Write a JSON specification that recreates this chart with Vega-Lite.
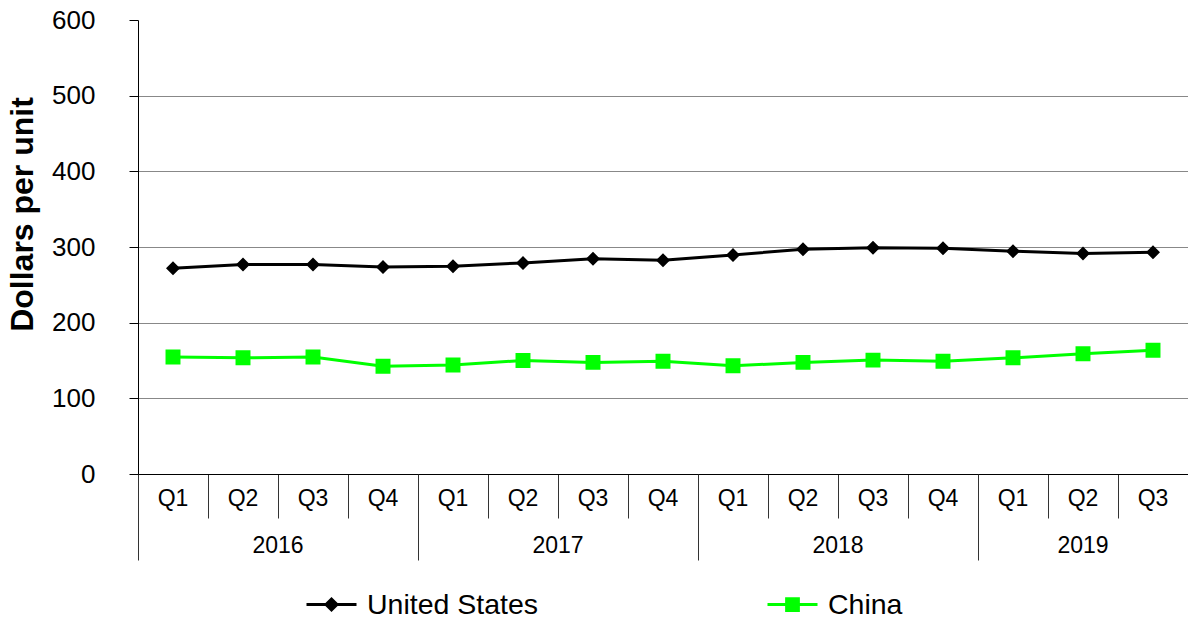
{
  "$schema": "https://vega.github.io/schema/vega-lite/v6.json",
  "width": 1050,
  "height": 454,
  "autosize": {"type": "none"},
  "padding": {"left": 138, "top": 20, "right": 0, "bottom": 146},
  "config": {
    "view": {"stroke": null},
    "font": "Liberation Sans",
    "axis": {"labelFont": "Liberation Sans", "titleFont": "Liberation Sans", "labelColor": "#000000", "titleColor": "#000000"},
    "legend": {"labelFont": "Liberation Sans"}
  },
  "datasets": {
    "prices": [
      {"period": "2016 Q1", "series": "United States", "value": 272},
      {"period": "2016 Q2", "series": "United States", "value": 277},
      {"period": "2016 Q3", "series": "United States", "value": 277},
      {"period": "2016 Q4", "series": "United States", "value": 273.5},
      {"period": "2017 Q1", "series": "United States", "value": 274.5},
      {"period": "2017 Q2", "series": "United States", "value": 279},
      {"period": "2017 Q3", "series": "United States", "value": 284.5},
      {"period": "2017 Q4", "series": "United States", "value": 282.5},
      {"period": "2018 Q1", "series": "United States", "value": 289.5},
      {"period": "2018 Q2", "series": "United States", "value": 297},
      {"period": "2018 Q3", "series": "United States", "value": 299},
      {"period": "2018 Q4", "series": "United States", "value": 298.5},
      {"period": "2019 Q1", "series": "United States", "value": 294.5},
      {"period": "2019 Q2", "series": "United States", "value": 291.5},
      {"period": "2019 Q3", "series": "United States", "value": 293},
      {"period": "2016 Q1", "series": "China", "value": 154.5},
      {"period": "2016 Q2", "series": "China", "value": 153.5},
      {"period": "2016 Q3", "series": "China", "value": 154.5},
      {"period": "2016 Q4", "series": "China", "value": 142.5},
      {"period": "2017 Q1", "series": "China", "value": 144},
      {"period": "2017 Q2", "series": "China", "value": 150},
      {"period": "2017 Q3", "series": "China", "value": 147.5},
      {"period": "2017 Q4", "series": "China", "value": 149},
      {"period": "2018 Q1", "series": "China", "value": 143},
      {"period": "2018 Q2", "series": "China", "value": 147.5},
      {"period": "2018 Q3", "series": "China", "value": 150.5},
      {"period": "2018 Q4", "series": "China", "value": 149},
      {"period": "2019 Q1", "series": "China", "value": 153.5},
      {"period": "2019 Q2", "series": "China", "value": 159},
      {"period": "2019 Q3", "series": "China", "value": 163.5}
    ]
  },
  "data": {"name": "prices"},
  "encoding": {
    "y": {
      "field": "value",
      "type": "quantitative",
      "scale": {"domain": [0, 600], "nice": false, "zero": true},
      "axis": {
        "values": [0, 100, 200, 300, 400, 500, 600],
        "title": "Dollars per unit",
        "titleFontSize": 32,
        "titleFontWeight": "bold",
        "titleAngle": 270,
        "titleX": -106,
        "titleY": 194,
        "titleAlign": "center",
        "titleBaseline": "alphabetic",
        "labelFontSize": 26,
        "labelPadding": 34,
        "tickSize": 9,
        "tickColor": "#000000",
        "domainColor": "#000000",
        "grid": true,
        "gridColor": {"condition": {"test": "datum.value === 0 || datum.value === 600", "value": "transparent"}, "value": "#888888"}
      }
    }
  },
  "layer": [
    {
      "encoding": {
        "x": {
          "field": "period",
          "type": "nominal",
          "scale": {"type": "band", "paddingInner": 0, "paddingOuter": 0,
            "domain": ["2016 Q1","2016 Q2","2016 Q3","2016 Q4","2017 Q1","2017 Q2","2017 Q3","2017 Q4","2018 Q1","2018 Q2","2018 Q3","2018 Q4","2019 Q1","2019 Q2","2019 Q3"]},
          "axis": {
            "orient": "bottom",
            "title": null,
            "labelExpr": "slice(datum.value, 5)",
            "labelAngle": 0,
            "bandPosition": 0,
            "tickSize": 44,
            "tickColor": "#333333",
            "domainColor": "#000000",
            "labelFontSize": 23,
            "labelBaseline": "middle",
            "labelPadding": -20,
            "grid": false
          }
        },
        "color": {
          "field": "series",
          "type": "nominal",
          "scale": {"domain": ["United States", "China"], "range": ["#000000", "#00ff00"]},
          "legend": {
            "title": null,
            "orient": "none",
            "legendX": 167,
            "legendY": 558,
            "direction": "horizontal",
            "columnPadding": 222,
            "symbolSize": 2500,
            "symbolStrokeWidth": 3,
            "labelFontSize": 28.5,
            "labelOffset": 9,
            "labelLimit": 400,
            "labelColor": "#000000",
            "encode": {
              "symbols": {
                "update": {
                  "fill": {"condition": {"test": "datum.value === 'China'", "value": "#00ff00"}, "value": "#000000"},
                  "stroke": {"condition": {"test": "datum.value === 'China'", "value": "#00ff00"}, "value": "#000000"},
                  "strokeWidth": {"value": 3},
                  "size": {"value": 2500},
                  "opacity": {"value": 1}
                }
              }
            }
          }
        }
      },
      "layer": [
        {"mark": {"type": "line", "strokeWidth": 3}},
        {
          "mark": {"type": "point", "filled": true, "opacity": 1, "size": 4050},
          "encoding": {
            "shape": {
              "field": "series",
              "type": "nominal",
              "scale": {"domain": ["United States", "China"], "range": ["M-1,0H1M-0.22,0L0,-0.22L0.22,0L0,0.22Z", "M-1,0H1M-0.235,-0.235H0.235V0.235H-0.235Z"]},
              "legend": null
            }
          }
        }
      ]
    },
    {
      "mark": {"type": "point", "opacity": 0},
      "encoding": {
        "x": {
          "field": "period",
          "type": "nominal",
          "scale": {"type": "band", "paddingInner": 0, "paddingOuter": 0,
            "domain": ["2016 Q1","2016 Q2","2016 Q3","2016 Q4","2017 Q1","2017 Q2","2017 Q3","2017 Q4","2018 Q1","2018 Q2","2018 Q3","2018 Q4","2019 Q1","2019 Q2","2019 Q3"]},
          "axis": {
            "orient": "bottom",
            "title": null,
            "domain": false,
            "grid": false,
            "bandPosition": 0,
            "tickSize": 86,
            "tickColor": "#333333",
            "tickOpacity": {"condition": {"test": "slice(datum.value, 5) === 'Q1'", "value": 1}, "value": 0},
            "labelExpr": "slice(datum.value, 5) === 'Q2' ? slice(datum.value, 0, 4) : ''",
            "labelOffset": {"condition": {"test": "slice(datum.value, 0, 4) === '2019'", "value": 0}, "value": 35},
            "labelAngle": 0,
            "labelBaseline": "middle",
            "labelPadding": -15,
            "labelFontSize": 23
          }
        }
      }
    }
  ],
  "resolve": {"scale": {"x": "independent"}}
}
